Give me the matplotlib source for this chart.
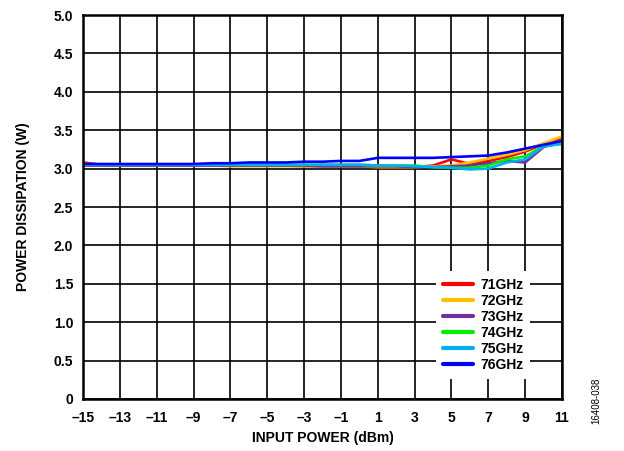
import matplotlib
matplotlib.use("Agg")
import matplotlib.pyplot as plt

plt.rcParams['font.family'] = ['Liberation Sans', 'DejaVu Sans']

x_dbm = list(range(-15, 12))
x_ticks = [-15, -13, -11, -9, -7, -5, -3, -1, 1, 3, 5, 7, 9, 11]
x_tick_labels = ["–15", "–13", "–11", "–9", "–7", "–5", "–3", "–1", "1", "3", "5", "7", "9", "11"]
y_ticks = [0, 0.5, 1.0, 1.5, 2.0, 2.5, 3.0, 3.5, 4.0, 4.5, 5.0]
y_tick_labels = ["0", "0.5", "1.0", "1.5", "2.0", "2.5", "3.0", "3.5", "4.0", "4.5", "5.0"]

labels = ["71GHz", "72GHz", "73GHz", "74GHz", "75GHz", "76GHz"]
colors = ["#FF0000", "#FFC000", "#7030A0", "#00EE00", "#00B0F0", "#0000FF"]

p71 = [3.08, 3.05, 3.04, 3.04, 3.04, 3.04, 3.04, 3.04, 3.04, 3.04, 3.04, 3.04, 3.03, 3.03,
       3.03, 3.03, 3.02, 3.02, 3.02, 3.04, 3.12, 3.06, 3.10, 3.15, 3.22, 3.32, 3.40]
p72 = [3.04, 3.04, 3.04, 3.04, 3.04, 3.04, 3.04, 3.04, 3.03, 3.03, 3.03, 3.03, 3.03, 3.03,
       3.03, 3.03, 3.02, 3.02, 3.02, 3.03, 3.04, 3.08, 3.13, 3.18, 3.24, 3.33, 3.42]
p73 = [3.04, 3.04, 3.04, 3.04, 3.04, 3.04, 3.04, 3.04, 3.04, 3.04, 3.04, 3.04, 3.04, 3.03,
       3.03, 3.03, 3.03, 3.03, 3.02, 3.02, 3.03, 3.04, 3.07, 3.10, 3.08, 3.28, 3.35]
p74 = [3.05, 3.05, 3.05, 3.05, 3.05, 3.05, 3.05, 3.05, 3.05, 3.05, 3.05, 3.05, 3.05, 3.05,
       3.05, 3.05, 3.04, 3.04, 3.04, 3.02, 3.01, 3.01, 3.04, 3.12, 3.16, 3.29, 3.33]
p75 = [3.05, 3.05, 3.05, 3.05, 3.05, 3.05, 3.05, 3.05, 3.05, 3.05, 3.05, 3.05, 3.05, 3.05,
       3.05, 3.05, 3.04, 3.04, 3.03, 3.02, 3.01, 2.99, 3.00, 3.08, 3.12, 3.29, 3.32]
p76 = [3.06, 3.06, 3.06, 3.06, 3.06, 3.06, 3.06, 3.07, 3.07, 3.08, 3.08, 3.08, 3.09, 3.09,
       3.10, 3.10, 3.14, 3.14, 3.14, 3.14, 3.15, 3.16, 3.17, 3.21, 3.26, 3.31, 3.36]
series = [p71, p72, p73, p74, p75, p76]

fig = plt.figure(figsize=(6.24, 4.51), dpi=100)
ax = fig.add_axes([0.133, 0.1153, 0.7676, 0.8514])

for vals, c, lab in zip(series, colors, labels):
    ax.plot(x_dbm, vals, color=c, lw=1.9, label=lab, solid_capstyle='round')

ax.set_xlim(-15, 11)
ax.set_ylim(0, 5.0)
ax.set_xticks(x_ticks)
ax.set_xticklabels(x_tick_labels, fontsize=10, fontweight='bold')
ax.set_yticks(y_ticks)
ax.set_yticklabels(y_tick_labels, fontsize=10, fontweight='bold')
ax.tick_params(axis='x', length=0, pad=9)
ax.tick_params(axis='y', length=0, pad=7)
ax.grid(True, color='black', lw=1.2)
ax.set_axisbelow(True)
for s in ax.spines.values():
    s.set_linewidth(1.8)
    s.set_color('black')

ax.set_xlabel("INPUT POWER (dBm)", fontsize=10, fontweight='bold', labelpad=4)
ax.set_ylabel("POWER DISSIPATION (W)", fontsize=10, fontweight='bold', labelpad=17)

leg = ax.legend(loc='lower right', bbox_to_anchor=(0.948, 0.034), frameon=True,
                fancybox=False, edgecolor='none', facecolor='white', framealpha=1,
                prop={'weight': 'bold', 'size': 10}, handlelength=2.2,
                handletextpad=0.5, labelspacing=0.15, borderpad=0.5)
for line in leg.get_lines():
    line.set_linewidth(3)

fig.text(0.955, 0.06, "16408-038", rotation=90, fontsize=7, ha='center', va='bottom')

fig.savefig("out.png", dpi=100)
